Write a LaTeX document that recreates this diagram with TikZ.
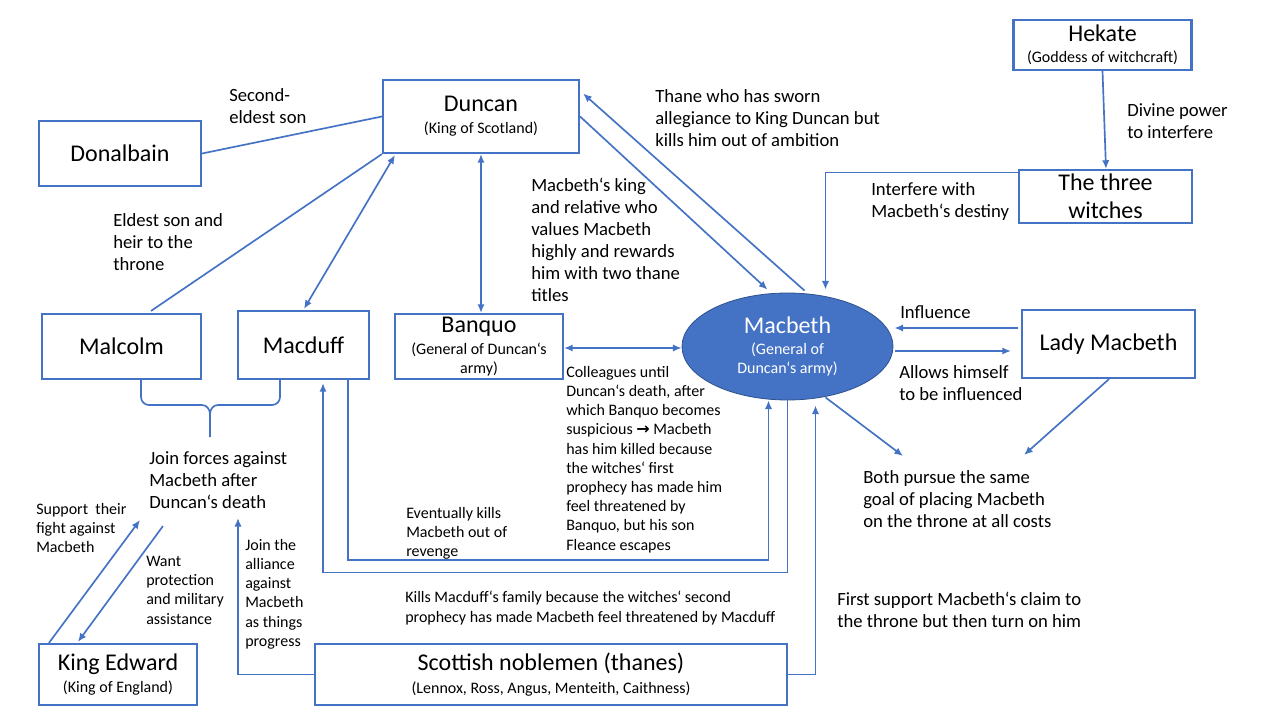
\documentclass[tikz,border=0pt]{standalone}
\usepackage{fontspec}
\setmainfont{Carlito}
\newfontfamily\symfont{DejaVu Sans}
\usetikzlibrary{arrows.meta,shapes.geometric,calc}
\definecolor{bl}{HTML}{4472C4}
\definecolor{bd}{HTML}{2F528F}
\newcommand\myfs[2]{\fontsize{#1pt}{#2pt}\selectfont}
\begin{document}
\begin{tikzpicture}[x=0.75pt,y=-0.75pt,
  box/.style={draw=bl,line width=1.6pt,rectangle,inner sep=0pt,align=center,font=\myfs{12}{14.4}},
  conn/.style={draw=bl,line width=1.25pt},
  arr/.style={conn,-{Latex[length=6.5pt,width=5.5pt]}},
  darr/.style={conn,{Latex[length=6.5pt,width=5.5pt]}-{Latex[length=6.5pt,width=5.5pt]}},
  lbl/.style={anchor=north west,inner sep=0pt,align=left,font=\myfs{14}{16.5}},
  sml/.style={anchor=north west,inner sep=0pt,align=left,font=\myfs{12}{14.4}}]
\useasboundingbox (0,0) rectangle (1280,720);
\fill[white] (0,0) rectangle (1280,720);

% boxes
\node[box,minimum width=133.5pt,minimum height=37.5pt] (hekate) at (1102.5,45)
  {{\myfs{18}{21}Hekate}\\[1.6pt](Goddess of witchcraft)};
\node[box,minimum width=147pt,minimum height=54.75pt] (duncan) at (481,116.5)
  {{\myfs{18}{21}Duncan}\\[2.1pt](King of Scotland)};
\node[box,minimum width=121.5pt,minimum height=48.75pt,font=\myfs{18}{21}] (donalbain) at (120,153.5) {Donalbain};
\node[box,minimum width=129.75pt,minimum height=39.75pt,font=\myfs{18}{21}] (witches) at (1105.5,196.5) {The three\\witches};
\node[box,minimum width=119.25pt,minimum height=48.75pt,font=\myfs{18}{21}] (malcolm) at (121.5,346.5) {Malcolm};
\node[box,minimum width=98.25pt,minimum height=51pt,font=\myfs{18}{21}] (macduff) at (303.5,345) {Macduff};
\node[box,minimum width=126pt,minimum height=48.75pt] (banquo) at (479,346.5)
  {{\myfs{18}{21}Banquo}\\[2.1pt](General of Duncan‘s\\army)};
\node[ellipse,draw=bd,line width=0.6pt,fill=bl,text=white,inner sep=0pt,align=center,
  minimum width=158.25pt,minimum height=80.25pt,font=\myfs{12}{14.4}] (macbeth) at (787.5,346.5)
  {{\myfs{18}{21}Macbeth}\\[1.4pt](General of\\Duncan‘s army)};
\node[box,minimum width=129.75pt,minimum height=51pt,font=\myfs{18}{21}] (lady) at (1108.5,344) {Lady Macbeth};
\node[box,minimum width=118.5pt,minimum height=45.75pt] (edward) at (118,674.5)
  {{\myfs{18}{21}King Edward}\\[2.1pt](King of England)};
\node[box,minimum width=354pt,minimum height=45.75pt] (nobles) at (551,674.5)
  {{\myfs{18}{21}Scottish noblemen (thanes)}\\[2.9pt](Lennox, Ross, Angus, Menteith, Caithness)};

% labels
\node[lbl] (sec) at (229,88) {Second-\\eldest son};
\node[lbl] (eld) at (113,213) {Eldest son and\\heir to the\\throne};
\node[lbl] (thane) at (655,89) {Thane who has sworn\\allegiance to King Duncan but\\kills him out of ambition};
\node[lbl] (mking) at (531,178) {Macbeth‘s king\\and relative who\\values Macbeth\\highly and rewards\\him with two thane\\titles};
\node[lbl] (divine) at (1127,103) {Divine power\\to interfere};
\node[lbl] (interf) at (871,182) {Interfere with\\Macbeth‘s destiny};
\node[lbl] (infl) at (900,305) {Influence};
\node[lbl] (allows) at (899,365) {Allows himself\\to be influenced};
\node[lbl] (both) at (863,470) {Both pursue the same\\goal of placing Macbeth\\on the throne at all costs};
\node[sml] (coll) at (566,366) {Colleagues until\\Duncan‘s death, after\\which Banquo becomes\\suspicious {\symfont\bfseries →} Macbeth\\has him killed because\\the witches‘ first\\prophecy has made him\\feel threatened by\\Banquo, but his son\\Fleance escapes};
\node[sml] (evk) at (406,507) {Eventually kills\\Macbeth out of\\revenge};
\node[sml] (kmf) at (405,591) {Kills Macduff‘s family because the witches‘ second\\prophecy has made Macbeth feel threatened by Macduff};
\node[lbl] (first) at (837,592) {First support Macbeth‘s claim to\\the throne but then turn on him};
\node[lbl] (joinf) at (149,451) {Join forces against\\Macbeth after\\Duncan‘s death};
\node[sml] (supp) at (36,503) {Support~ their\\fight against\\Macbeth};
\node[sml] (want) at (146,556) {Want\\protection\\and military\\assistance};
\node[sml] (jtha) at (245,539) {Join the\\alliance\\against\\Macbeth\\as things\\progress};

% connectors
\draw[conn] (donalbain.east) -- (duncan.west);
\draw[conn] ($(malcolm.north)+(29.5,-2)$) -- (duncan.south west);
\draw[darr] ($(macduff.north)+(0.5,-1)$) -- ($(duncan.south west)+(13,1)$);
\draw[darr] (duncan.south) -- (duncan.south |- banquo.north);
\draw[arr] (duncan.east) -- ($(macbeth.north)+(-20,-3)$);
\draw[arr] ($(macbeth.north)+(17,-2)$) -- ($(duncan.east)+(3,-23)$);
\draw[arr] ($(witches.north west)+(0,3.5)$) -| ($(macbeth.north)+(38,-3)$);
\draw[arr] (hekate.south) -- ($(witches.north)+(0.5,0)$);
\draw[arr] ($(lady.west)+(-3,-16)$) -- ($(macbeth.east)+(1,-18.5)$);
\draw[arr] ($(macbeth.east)+(2,4.5)$) -- ($(lady.west)+(-10,7)$);
\draw[arr] ($(macbeth.south)+(38,-3)$) -- ($(both.north west)+(40,-14)$);
\draw[arr] ($(lady.south)+(0.5,0)$) -- ($(both.north west)+(161,-15)$);
\draw[darr] ($(banquo.east)+(0,1.5)$) -- ($(macbeth.west)+(0,1.5)$);
\draw[arr] ($(macduff.south)+(44.5,0)$) -- ++(0,180) -| ($(macbeth.south)+(-19,0)$);
\draw[arr] (macbeth.south) -- ++(0,172) -| ($(macduff.south)+(19.5,3)$);
\draw[arr] (nobles.east) -| ($(macbeth.south)+(28,5)$);
\draw[arr] (nobles.west) -| ($(joinf.north west)+(89,67)$);
\draw[arr] ($(edward.north west)+(11,0)$) -- ($(joinf.north west)+(-9,69)$);
\draw[arr] ($(joinf.north west)+(14,75)$) -- ($(edward.north west)+(40,-1)$);
% brace
\coordinate (bt) at (210,437);
\draw[conn] ($(malcolm.south)+(19.5,0)$) -- (141,397) to[out=-90,in=180] (149,405) -- (202,405)
  to[out=0,in=90] (210,414) -- (bt);
\draw[conn] ($(macduff.south)+(-23.5,0)$) -- (280,397) to[out=-90,in=0] (272,405) -- (218,405)
  to[out=180,in=90] (210,414);
\end{tikzpicture}
\end{document}
